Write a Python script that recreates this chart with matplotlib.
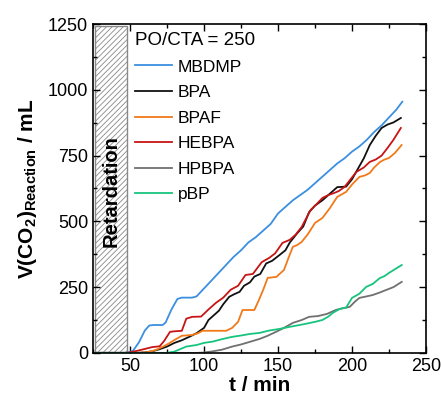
import matplotlib
matplotlib.use("Agg")
import matplotlib.pyplot as plt
from matplotlib.patches import Rectangle
from matplotlib.ticker import MultipleLocator

plt.rcParams['font.family'] = ['Liberation Sans', 'DejaVu Sans']
plt.rcParams['mathtext.fontset'] = 'custom'
plt.rcParams['mathtext.rm'] = 'Liberation Sans'
plt.rcParams['mathtext.bf'] = 'Liberation Sans:bold'
plt.rcParams['hatch.color'] = '#888888'
plt.rcParams['hatch.linewidth'] = 0.6

# data (t in min, V in mL)
t_mbdmp = [25, 48, 52, 56, 60, 63, 66, 72, 74, 78, 82, 85, 92, 95, 100, 105, 110, 115, 120, 125, 130,
           135, 140, 145, 150, 155, 160, 165, 170, 175, 180, 185, 190, 195, 200, 205, 210, 215, 220,
           225, 230, 234]
v_mbdmp = [0, 0, 8, 40, 85, 104, 106, 106, 115, 165, 205, 210, 210, 215, 245, 275, 305, 335, 365, 390,
           420, 440, 465, 490, 530, 555, 580, 600, 620, 645, 670, 695, 720, 740, 765, 785, 810, 840,
           865, 895, 925, 955]

t_bpa = [25, 55, 60, 65, 70, 75, 80, 85, 90, 95, 100, 103, 106, 110, 113, 117, 120, 124, 127, 131, 134,
         138, 142, 146, 151, 155, 158, 163, 167, 171, 175, 180, 185, 190, 196, 200, 204, 208, 212, 216,
         220, 224, 228, 233]
v_bpa = [0, 0, 2, 6, 14, 24, 38, 48, 61, 75, 95, 125, 140, 160, 185, 213, 222, 232, 255, 268, 290,
         300, 340, 350, 372, 390, 420, 455, 480, 535, 560, 580, 605, 630, 632, 660, 700, 740, 790, 825,
         855, 868, 876, 893]

t_bpaf = [25, 55, 62, 67, 72, 76, 80, 85, 92, 96, 99, 105, 115, 119, 123, 126, 130, 134, 137, 140, 143,
          149, 151, 154, 157, 160, 163, 166, 170, 175, 180, 185, 190, 196, 200, 205, 209, 212, 215, 219,
          222, 225, 229, 233.5]
v_bpaf = [0, 0, 3, 10, 23, 35, 49, 65, 68, 75, 84, 84, 84, 95, 118, 163, 163, 163, 200, 240, 285,
          289, 300, 315, 360, 403, 410, 422, 450, 494, 513, 550, 593, 612, 640, 669, 675, 684, 705, 726,
          735, 741, 760, 790]

t_hebpa = [25, 48, 55, 60, 65, 70, 73, 77, 80, 85, 88, 92, 98, 103, 108, 113, 118, 123, 128, 133, 139,
           144, 148, 153, 158, 162, 166, 172, 176, 180, 184, 188, 191, 195, 199, 203, 208, 212, 216, 220,
           224, 228, 233]
v_hebpa = [0, 0, 8, 15, 22, 25, 45, 80, 82, 84, 130, 137, 138, 165, 190, 210, 240, 255, 296, 300, 345,
           361, 378, 418, 430, 450, 479, 543, 565, 589, 600, 608, 615, 631, 660, 688, 705, 726, 735, 750,
           779, 810, 855]

t_hpbpa = [25, 95, 99, 105, 112, 119, 125, 131, 137.5, 143, 149, 154, 160, 166, 171, 177, 183, 189, 194,
           198.5, 202, 205, 210, 214, 219, 223, 228, 233.6]
v_hpbpa = [0, 0, 1, 5, 12, 24, 32, 42, 53, 65, 81, 95, 114, 125, 137, 140, 148, 163, 170,
           175, 195, 209, 215, 220, 230, 239, 250, 270]

t_pbp = [25, 75, 80, 88, 95, 100, 106, 112, 119, 125, 131, 137.6, 144, 151, 157, 164.6, 170, 175, 180,
         184, 187, 191.6, 196, 200, 205, 209.6, 214, 218.7, 222, 225, 229, 233.6]
v_pbp = [0, 0, 5, 24, 30, 38, 43, 52, 61, 66, 72, 76, 85, 91, 98, 106, 112, 118, 125,
         138, 152, 167, 172, 209, 225, 251, 262, 284, 292, 304, 318, 334]

series = [
    ('MBDMP', t_mbdmp, v_mbdmp, '#3b8fe0'),
    ('BPA', t_bpa, v_bpa, '#111111'),
    ('BPAF', t_bpaf, v_bpaf, '#f07a1a'),
    ('HEBPA', t_hebpa, v_hebpa, '#c81414'),
    ('HPBPA', t_hpbpa, v_hpbpa, '#707070'),
    ('pBP', t_pbp, v_pbp, '#16c47e'),
]

retard_end = 48

fig = plt.figure(figsize=(4.41, 4.01), dpi=100)
ax = fig.add_axes([0.211, 0.12, 0.755, 0.82])

ax.add_patch(Rectangle((26.2, 4), retard_end - 26.2, 1240, facecolor='white',
                       edgecolor='#888888', hatch='//////', lw=1.0, zorder=1))
ax.text(37.0, 615, 'Retardation', rotation=90, ha='center', va='center',
        fontsize=14.5, fontweight='bold', zorder=3)

for name, t, v, c in series:
    ax.plot(t, v, color=c, lw=1.3, label=name, zorder=2)

ax.set_xlim(25, 250)
ax.set_ylim(0, 1250)
ax.xaxis.set_minor_locator(MultipleLocator(25))
ax.yaxis.set_major_locator(MultipleLocator(250))
ax.yaxis.set_minor_locator(MultipleLocator(125))
ax.tick_params(which='both', direction='in', top=True, right=True, labelsize=13, width=1.0)
ax.tick_params(which='major', length=5)
ax.tick_params(which='minor', length=3)
ax.set_xticks([50, 100, 150, 200, 250])
for s in ax.spines.values():
    s.set_linewidth(1.2)

ax.set_xlabel('t / min', fontsize=15, fontweight='bold', labelpad=1)
ax.set_ylabel(r'$\mathbf{V(CO_{2})_{Reaction}}$ / mL', fontsize=15, fontweight='bold', labelpad=6)

leg = ax.legend(title='PO/CTA = 250', loc='upper left', bbox_to_anchor=(0.125, 0.976),
                frameon=False, fontsize=12.5, title_fontsize=13.5, handlelength=2.15,
                handletextpad=0.35, labelspacing=0.6, borderpad=0, borderaxespad=0,
                alignment='left')

fig.savefig('out.png', dpi=100)
